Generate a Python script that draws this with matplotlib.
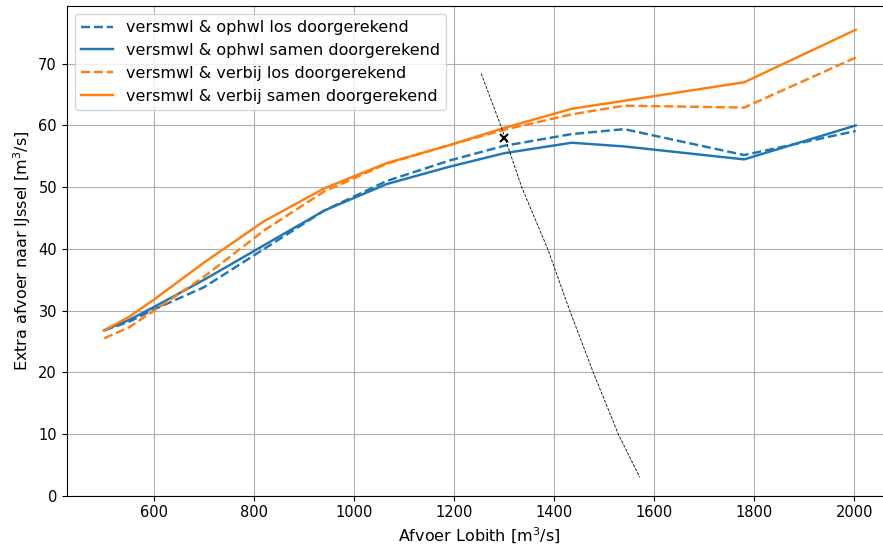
import matplotlib
matplotlib.use("Agg")
import matplotlib.pyplot as plt

# Afvoer Lobith [m3/s]
x = [500, 550, 600, 700, 820, 940, 1065, 1190, 1300, 1435, 1540, 1780, 2003]

ophwl_los = [26.8, 28.2, 30.2, 33.8, 40.0, 46.2, 51.0, 54.3, 56.7, 58.6, 59.4, 55.2, 59.1]
ophwl_samen = [26.8, 28.5, 30.6, 35.0, 40.6, 46.2, 50.5, 53.3, 55.5, 57.2, 56.6, 54.5, 60.0]
verbij_los = [25.5, 27.3, 30.0, 35.5, 43.0, 49.3, 53.8, 56.8, 59.3, 61.8, 63.2, 62.9, 71.0]
verbij_samen = [26.8, 29.0, 31.8, 37.8, 44.5, 49.8, 53.9, 56.8, 59.6, 62.7, 64.0, 67.0, 75.5]

labels = [
    "versmwl & ophwl los doorgerekend",
    "versmwl & ophwl samen doorgerekend",
    "versmwl & verbij los doorgerekend",
    "versmwl & verbij samen doorgerekend",
]

# thin reference curve
ref_x = [1254, 1293, 1335, 1387, 1431, 1478, 1528, 1571]
ref_y = [68.4, 60.0, 50.0, 40.0, 30.0, 20.0, 10.0, 3.0]

# marked point
mark_x = [1300]
mark_y = [57.9]

fig = plt.figure(figsize=(8.83, 5.5), dpi=100)
ax = fig.add_axes([0.0755, 0.0987, 0.9344, 0.8909])

lw = 1.75
ax.plot(x, ophwl_los, "--", color="C0", lw=lw, label=labels[0])
ax.plot(x, ophwl_samen, "-", color="C0", lw=lw, label=labels[1])
ax.plot(x, verbij_los, "--", color="C1", lw=lw, label=labels[2])
ax.plot(x, verbij_samen, "-", color="C1", lw=lw, label=labels[3])
ax.plot(ref_x, ref_y, "--", color="k", lw=0.6)
ax.plot(mark_x, mark_y, "x", color="k", ms=6, mew=1.5)

ax.set_xlim(425, 2075)
ax.set_ylim(0, 79.4)
ax.set_xticks([600, 800, 1000, 1200, 1400, 1600, 1800, 2000])
ax.set_yticks([0, 10, 20, 30, 40, 50, 60, 70])
ax.tick_params(labelsize=10.5)
ax.grid(True)
ax.set_xlabel("Afvoer Lobith [m$^3$/s]", fontsize=11.5)
ax.set_ylabel("Extra afvoer naar IJssel [m$^3$/s]", fontsize=11.5)
ax.legend(loc="upper left", fontsize=11.5)

fig.savefig("out.png", dpi=100)
